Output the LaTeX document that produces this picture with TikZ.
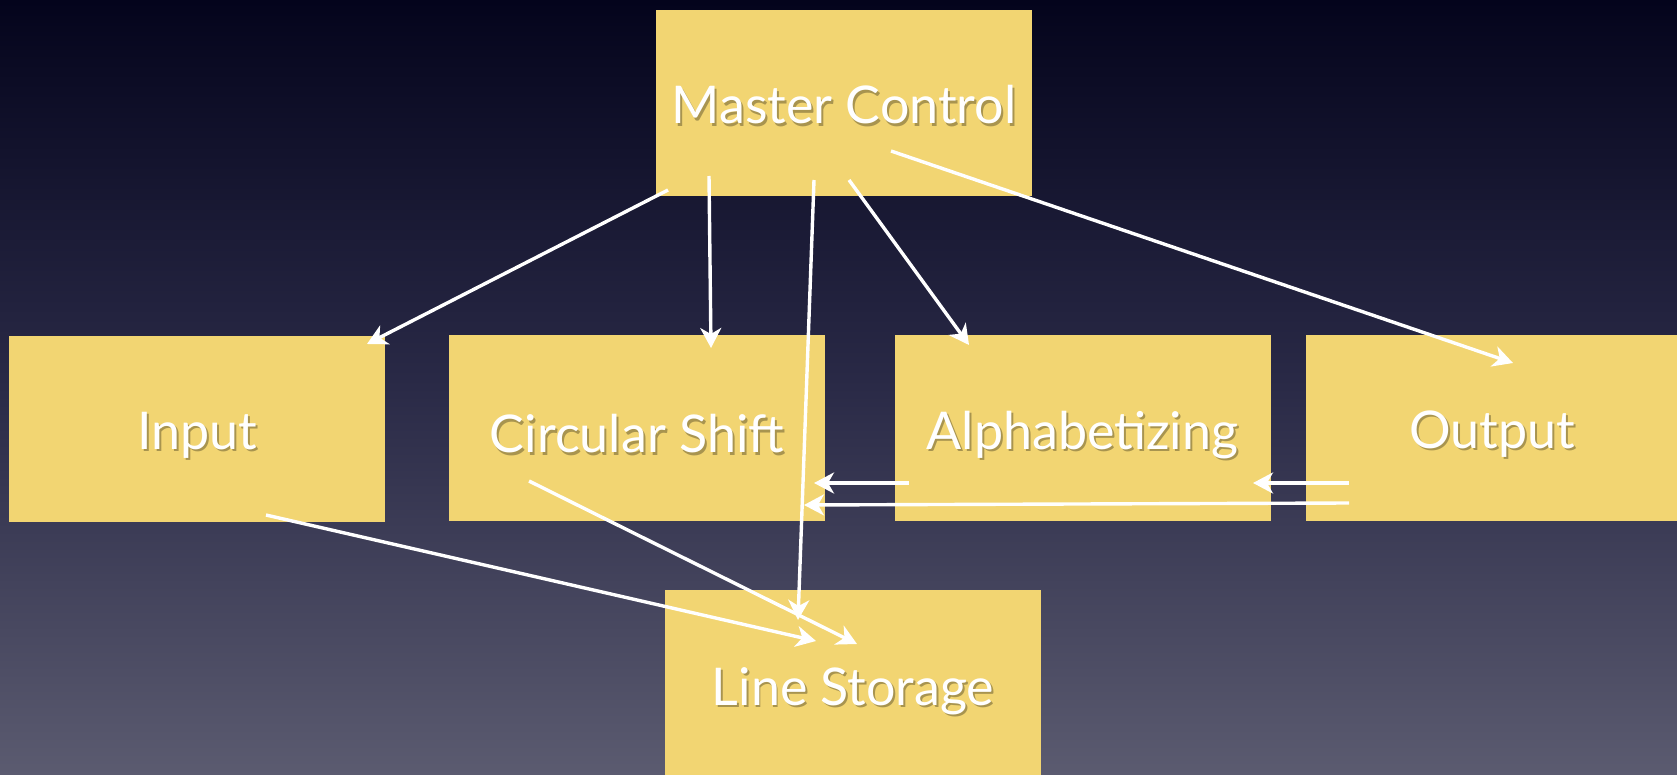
\documentclass[tikz,border=0pt]{standalone}
\usepackage{fontspec}
\setmainfont{Lato}
\usetikzlibrary{arrows.meta,calc}
\definecolor{bgtop}{HTML}{04041C}
\definecolor{bgmid}{HTML}{2A2A47}
\definecolor{bgbot}{HTML}{5B5B70}
\definecolor{boxfill}{HTML}{F2D572}
\tikzset{
  card/.style={fill=boxfill, draw=none, minimum width=376pt, minimum height=186pt, inner sep=0pt},
  lbl/.style={text=white, font=\fontsize{52}{56}\selectfont},
  shd/.style={text=black, opacity=0.3, font=\fontsize{52}{56}\selectfont},
  conn/.style={draw=white, line width=3.4pt, -{Stealth[length=20pt,width=21pt,inset=6pt]}},
}
\begin{document}
\begin{tikzpicture}[x=1pt,y=-1pt]
\useasboundingbox (0,0) rectangle (1677,775);
\shade[top color=bgtop, bottom color=bgmid] (0,0) rectangle (1677,388);
\shade[top color=bgmid, bottom color=bgbot] (0,387) rectangle (1677,775);
% boxes
\node[card] (mc) at (844,103) {};
\node[card] (in) at (197,429) {};
\node[card] (cs) at (637,428) {};
\node[card] (al) at (1082.5,428) {};
\node[card, minimum width=372pt] (out) at (1492,428) {};
\node[card] (ls) at (853,683) {};
% labels with shadow
\foreach \n/\t/\dy in {mc/Master Control/2, in/Input/6, cs/Circular Shift/6, al/Alphabetizing/7, out/Output/6, ls/Line Storage/8}{
  \node[shd] at ($(\n.center)+(2,\dy+2.5)$) {\t};
  \node[lbl] (t-\n) at ($(\n.center)+(0,\dy)$) {\t};
}
% arrow end points
\coordinate (a1s) at (668,190); \coordinate (a1e) at (367,344);
\coordinate (a2s) at (709,176); \coordinate (a2e) at (711,348);
\coordinate (a3s) at (814,180); \coordinate (a3e) at (798,620);
\coordinate (a4s) at (849,180); \coordinate (a4e) at (969,345);
\coordinate (a5s) at (891,151); \coordinate (a5e) at (1513,363);
\coordinate (a6s) at (909,483); \coordinate (a6e) at (814,483);
\coordinate (a7s) at (1349,483); \coordinate (a7e) at (1253,483);
\coordinate (a8s) at (1349,503); \coordinate (a8e) at (804,505);
\coordinate (a9s) at (266,515); \coordinate (a9e) at (816,641);
\coordinate (a10s) at (529,481); \coordinate (a10e) at (857,644);
\draw[conn] (a1s) -- (a1e);
\draw[conn] (a2s) -- (a2e);
\draw[conn] (a3s) -- (a3e);
\draw[conn] (a4s) -- (a4e);
\draw[conn] (a5s) -- (a5e);
\draw[conn] (a6s) -- (a6e);
\draw[conn] (a7s) -- (a7e);
\draw[conn] (a8s) -- (a8e);
\draw[conn] (a9s) -- (a9e);
\draw[conn] (a10s) -- (a10e);
\end{tikzpicture}
\end{document}
